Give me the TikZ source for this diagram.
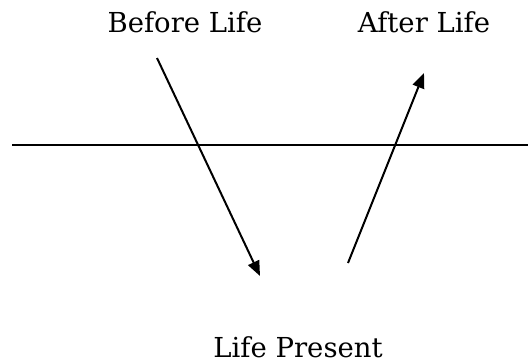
\documentclass[tikz,border=0pt]{standalone}
\usepackage{fontspec}
\setmainfont{DejaVu Serif}
\usetikzlibrary{arrows.meta}
\tikzset{
  lbl/.style={anchor=base, inner sep=0pt, font=\fontsize{27.5}{32}\selectfont},
  conn/.style={line width=2pt, -{Triangle[length=15pt,width=12pt]}},
}
\begin{document}
\begin{tikzpicture}[x=1pt,y=-1pt]
\useasboundingbox (0,0) rectangle (528,364);
\node[lbl] (before) at (185,32) {Before Life};
\node[lbl] (after) at (424,32) {After Life};
\node[lbl] (present) at (298,357) {Life Present};
\coordinate (hl) at (12,145);
\coordinate (hr) at (528,145);
\draw[line width=2pt] (hl) -- (hr);
\coordinate (a1s) at (157,58);
\coordinate (a1e) at (260,276);
\coordinate (a2s) at (348,263);
\coordinate (a2e) at (424,73);
\draw[conn] (a1s) -- (a1e);
\draw[conn] (a2s) -- (a2e);
\end{tikzpicture}
\end{document}
